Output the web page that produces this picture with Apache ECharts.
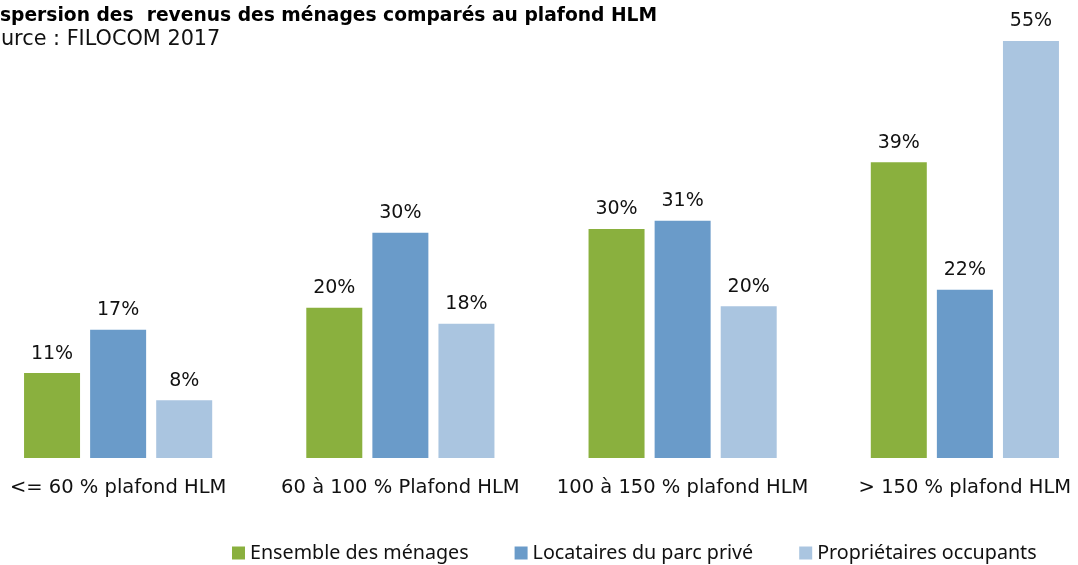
<!DOCTYPE html>
<html><head><meta charset="utf-8">
<script src="https://cdn.jsdelivr.net/npm/echarts@6/dist/echarts.min.js"></script>
<style>html,body{margin:0;padding:0;background:#fff}#c{width:1078px;height:565px}</style>
</head><body><div id="c"></div>
<script>
const categories = ["<= 60 % plafond HLM", "60 à 100 % Plafond HLM", "100 à 150 % plafond HLM", "> 150 % plafond HLM"];
const seriesNames = ["Ensemble des ménages", "Locataires du parc privé", "Propriétaires occupants"];
const ensemble = [11.2, 19.8, 30.2, 39.0];
const locataires = [16.9, 29.7, 31.3, 22.2];
const proprietaires = [7.6, 17.7, 20.0, 55.0];
const colors = ["#8AB03E", "#6A9BC9", "#AAC5E0"];
const titleText = "Dispersion des  revenus des ménages comparés au plafond HLM";
const subText = "Source : FILOCOM 2017";

const font = "'DejaVu Sans', sans-serif";
const chart = echarts.init(document.getElementById('c'));
const mk = (name, data, i) => ({
  name, type: 'bar', data, barWidth: 56, barGap: '18%',
  itemStyle: { color: colors[i] },
  label: { show: true, position: 'top', distance: 10, color: '#111', fontSize: 19, fontFamily: font,
    formatter: p => Math.round(p.value) + '%' }
});
chart.setOption({
  animation: false,
  title: [
    { text: titleText, left: -22, top: 7, padding: 0, textStyle: { fontSize: 18.7, fontWeight: 'bold', color: '#000', fontFamily: font } },
    { text: subText, left: -25, top: 29, padding: 0, textStyle: { fontSize: 20.8, fontWeight: 'normal', color: '#111', fontFamily: font } }
  ],
  legend: {
    top: 543, left: 232, padding: 0, itemWidth: 13, itemHeight: 13, itemGap: 46, icon: 'rect',
    textStyle: { fontSize: 19.7, color: '#111', fontFamily: "'Noto Sans', sans-serif" },
    data: seriesNames
  },
  grid: { left: -23, right: -28, top: 3, bottom: 107, containLabel: false, outerBoundsMode: 'none' },
  xAxis: {
    type: 'category', data: categories,
    axisLine: { show: false }, axisTick: { show: false },
    axisLabel: { fontSize: 19.5, color: '#111', margin: 20, fontFamily: font, interval: 0 }
  },
  yAxis: { type: 'value', min: 0, max: 60, show: false, splitLine: { show: false } },
  series: [mk(seriesNames[0], ensemble, 0), mk(seriesNames[1], locataires, 1), mk(seriesNames[2], proprietaires, 2)]
});
</script></body></html>
